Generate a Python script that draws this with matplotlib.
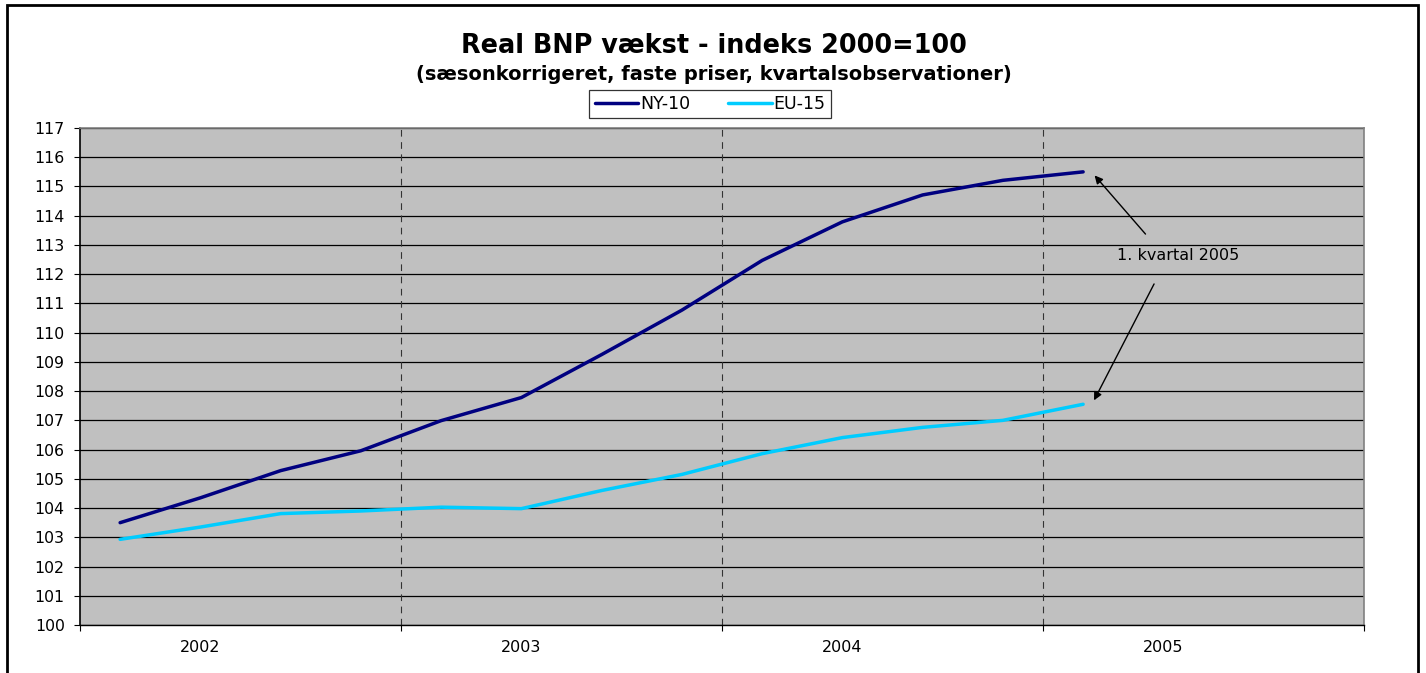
import matplotlib
matplotlib.use("Agg")
import matplotlib.pyplot as plt
from matplotlib.patches import Rectangle
import numpy as np

plt.rcParams['font.family'] = ['DejaVu Sans']

years = ["2002", "2003", "2004", "2005"]
quarters = ["2002K1", "2002K2", "2002K3", "2002K4",
            "2003K1", "2003K2", "2003K3", "2003K4",
            "2004K1", "2004K2", "2004K3", "2004K4", "2005K1"]
ny10 = [103.5, 104.35, 105.28, 105.96, 106.99, 107.78, 109.25, 110.77,
        112.47, 113.79, 114.71, 115.21, 115.5]
eu15 = [102.93, 103.35, 103.81, 103.9, 104.03, 103.98, 104.6, 105.15,
        105.86, 106.41, 106.76, 107.0, 107.55]

fig = plt.figure(figsize=(14.26, 6.73), dpi=100)
ax = fig.add_axes([80/1426, 1-625/673, (1364-80)/1426, (625-128)/673])

x = np.arange(len(quarters)) + 0.5
ax.set_facecolor('#C0C0C0')
ax.plot(x, ny10, color='#000080', lw=2.5, label='NY-10', solid_capstyle='round', zorder=3)
ax.plot(x, eu15, color='#00CCFF', lw=2.5, label='EU-15', solid_capstyle='round', zorder=3)

ax.set_xlim(0, 16)
ax.set_ylim(100, 117)
ax.set_yticks(np.arange(100, 118, 1))
ax.set_yticklabels([str(v) for v in range(100, 118)], fontsize=11.3)
ax.yaxis.grid(True, color='black', lw=0.9)
ax.set_axisbelow(True)
ax.set_xticks([0, 4, 8, 12, 16])
ax.set_xticklabels([])
# year labels sit under the 2nd quarter of each year
ax.set_xticks([1.5, 5.5, 9.5, 13.5], minor=True)
ax.set_xticklabels(years, minor=True, fontsize=11.5)
ax.tick_params(axis='x', which='minor', length=0, pad=11)
ax.tick_params(axis='x', which='major', length=4, direction='out', color='black')
ax.tick_params(axis='y', length=4, direction='out', color='black', pad=7)
for xv in [4, 8, 12]:
    ax.axvline(xv, color='#333333', lw=0.8, ls=(0, (6, 5)), zorder=2)

for s in ['top', 'right']:
    ax.spines[s].set_color('#808080')
    ax.spines[s].set_linewidth(1.2)
ax.spines['left'].set_color('black')
ax.spines['bottom'].set_color('black')
ax.spines['left'].set_linewidth(1.2)
ax.spines['bottom'].set_linewidth(1.0)

# annotation
ax.text(13.69, 112.65, '1. kvartal 2005', fontsize=11.5, ha='center', va='center', color='black')
ax.annotate('', xy=(x[-1] + 0.12, ny10[-1] - 0.05), xytext=(13.3, 113.3),
            arrowprops=dict(arrowstyle='-|>', color='black', lw=1.0, mutation_scale=12))
ax.annotate('', xy=(x[-1] + 0.12, eu15[-1] + 0.05), xytext=(13.4, 111.75),
            arrowprops=dict(arrowstyle='-|>', color='black', lw=1.0, mutation_scale=12))

fig.text(0.5005, 1-46/673, 'Real BNP vækst - indeks 2000=100', ha='center', va='center',
         fontsize=18.4, fontweight='bold')
fig.text(0.5005, 1-74/673, '(sæsonkorrigeret, faste priser, kvartalsobservationer)', ha='center',
         va='center', fontsize=14, fontweight='bold')

leg = fig.legend(loc='center', bbox_to_anchor=(710/1426, 1-104/673), ncol=2, frameon=True,
                 fancybox=False, edgecolor='black', fontsize=12.5, handlelength=2.5,
                 handletextpad=0.1, columnspacing=2.2, borderpad=0.3, borderaxespad=0)
leg.get_frame().set_linewidth(0.9)

fig.patches.append(Rectangle((7/1426, -0.05), (1418-7)/1426, 1-5/673+0.05,
                             transform=fig.transFigure, fill=False, edgecolor='black', lw=2))

fig.savefig('out.png', dpi=100)
